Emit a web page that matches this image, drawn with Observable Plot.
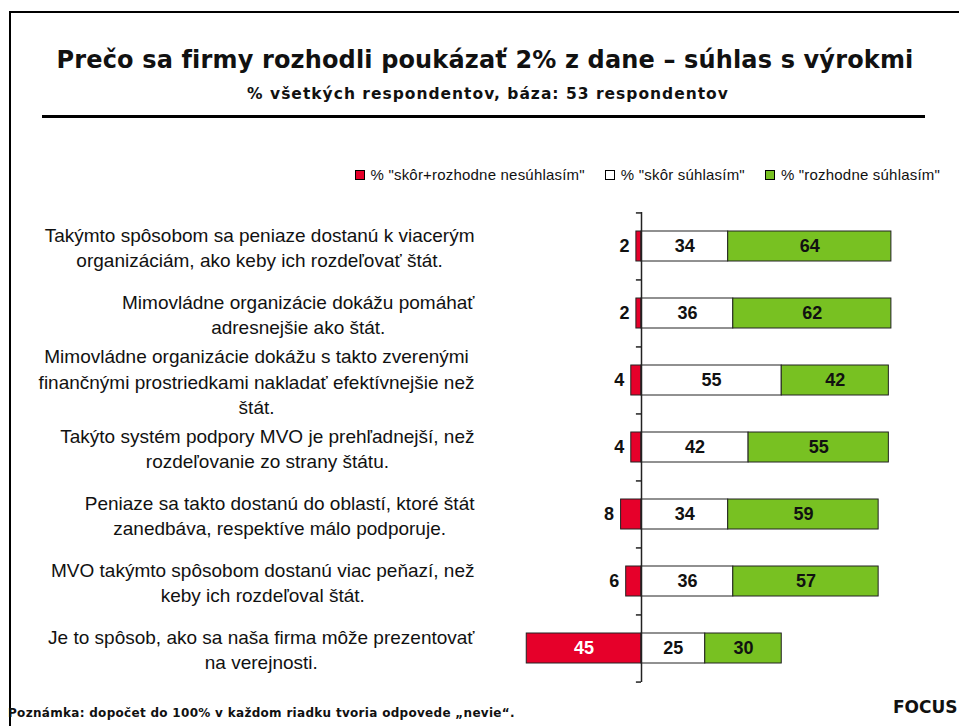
<!DOCTYPE html>
<html>
<head>
<meta charset="utf-8">
<script src="https://cdn.jsdelivr.net/npm/d3@7"></script>
<script src="https://cdn.jsdelivr.net/npm/@observablehq/plot@0.6"></script>
<style>
  html, body { margin: 0; padding: 0; background: #fff; }
  body { width: 959px; height: 726px; position: relative; overflow: hidden; }
  .abs { position: absolute; white-space: nowrap; }
  #frame { position: absolute; left: 9px; top: 11px; width: 1000px; height: 800px; border-left: 2px solid #000; border-top: 2px solid #000; }
  #title { left: 9px; width: 952px; top: 48px; text-align: center; font: bold 24px/24px "DejaVu Sans"; letter-spacing: 0.15px; color: #111; }
  #subtitle { left: 9px; width: 958px; top: 86px; text-align: center; font: bold 15.5px/16px "DejaVu Sans"; letter-spacing: 1px; color: #111; }
  #rule { position: absolute; left: 42px; top: 115px; width: 883px; height: 3px; background: #000; }
  #legend { right: 19px; top: 167px; font: 15px/16px "Liberation Sans"; letter-spacing: 0.2px; color: #111; display: flex; gap: 20px; }
  #legend span.item { display: flex; align-items: center; }
  #legend i { display: inline-block; width: 8px; height: 8px; border: 1px solid #000; margin-right: 6px; }
  #chart { position: absolute; left: 0; top: 200px; }
  #note { left: 8px; top: 707px; font: bold 12px/12px "DejaVu Sans"; letter-spacing: 0.3px; color: #111; }
  #focus { left: 893px; top: 699px; font: bold 17px/17px "DejaVu Sans"; color: #111; }
</style>
</head>
<body>
<div id="frame"></div>
<div id="title" class="abs">Prečo sa firmy rozhodli poukázať 2% z dane – súhlas s výrokmi</div>
<div id="subtitle" class="abs">% všetkých respondentov, báza: 53 respondentov</div>
<div id="rule"></div>
<div id="legend" class="abs"></div>
<div id="chart"></div>
<div id="note" class="abs">Poznámka: dopočet do 100% v každom riadku tvoria odpovede „nevie“.</div>
<div id="focus" class="abs">FOCUS</div>
<script>
// ---- data ----
const categories = [
  "Takýmto spôsobom sa peniaze dostanú k viacerým\norganizáciám, ako keby ich rozdeľovať štát.",
  "Mimovládne organizácie dokážu pomáhať\nadresnejšie ako štát.",
  "Mimovládne organizácie dokážu s takto zverenými\nfinančnými prostriedkami nakladať efektívnejšie než\nštát.",
  "Takýto systém podpory MVO je prehľadnejší, než\nrozdeľovanie zo strany štátu.",
  "Peniaze sa takto dostanú do oblastí, ktoré štát\nzanedbáva, respektíve málo podporuje.",
  "MVO takýmto spôsobom dostanú viac peňazí, než\nkeby ich rozdeľoval štát.",
  "Je to spôsob, ako sa naša firma môže prezentovať\nna verejnosti."
];
const nesuhlasim = [2, 2, 4, 4, 8, 6, 45];
const skorSuhlasim = [34, 36, 55, 42, 34, 36, 25];
const rozhodneSuhlasim = [64, 62, 42, 55, 59, 57, 30];
const seriesNames = ['% "skôr+rozhodne nesúhlasím"', '% "skôr súhlasím"', '% "rozhodne súhlasím"'];
const seriesColors = ["#E6002A", "#FFFFFF", "#78C122"];

// ---- legend ----
const legend = document.getElementById("legend");
seriesNames.forEach((n, i) => {
  const s = document.createElement("span");
  s.className = "item";
  s.innerHTML = `<i style="background:${seriesColors[i]}"></i>`;
  s.appendChild(document.createTextNode(n));
  legend.appendChild(s);
});

// ---- table ----
const rows = categories.map((c, i) => ({
  cat: c,
  neg: nesuhlasim[i],
  skor: skorSuhlasim[i],
  roz: rozhodneSuhlasim[i]
}));
const segs = [];
rows.forEach(r => {
  segs.push({cat: r.cat, s: 0, x1: -r.neg, x2: 0, v: r.neg});
  segs.push({cat: r.cat, s: 1, x1: 0, x2: r.skor, v: r.skor});
  segs.push({cat: r.cat, s: 2, x1: r.skor, x2: r.skor + r.roz, v: r.roz});
});

const labelSize = 19;
const ctx = document.createElement("canvas").getContext("2d");
ctx.font = `${labelSize}px 'Liberation Sans'`;
function blockWidth(t) {
  return Math.max(...t.split("\n").map(l => ctx.measureText(l).width));
}

const W = 959, H = 500;
const mTop = 12, mBottom = 18;
const step = (H - mTop - mBottom) / categories.length;
const xDomain = [-60, 100];
const xRange = [488, 896];
const axisX = 641; // pixel of zero
const labelRight = 474;

const labelMarks = categories.map(c => Plot.text([c], {
  x: () => 0, y: d => d, text: d => d,
  dx: (labelRight - axisX) - blockWidth(c) / 2,
  textAnchor: "middle", lineAnchor: "middle", lineHeight: 1.32,
  fontSize: labelSize, fontFamily: "Liberation Sans", fill: "#111"
}));

const chart = Plot.plot({
  width: W, height: H,
  marginTop: mTop, marginBottom: mBottom, marginLeft: 0, marginRight: 0,
  style: {background: "transparent"},
  x: {domain: xDomain, range: xRange, axis: null},
  y: {type: "band", domain: categories, paddingInner: 0.55, paddingOuter: 0.275, axis: null},
  marks: [
    Plot.barX(segs, {
      y: "cat", x1: "x1", x2: "x2",
      fill: d => seriesColors[d.s], stroke: "#222", strokeWidth: 1
    }),
    Plot.ruleX([0], {stroke: "#222", strokeWidth: 1.5}),
    Plot.ruleY(categories, {y: d => d, x1: -2, x2: 0, dy: -step / 2, stroke: "#222", strokeWidth: 1.5}),
    Plot.ruleY([categories[categories.length - 1]], {y: d => d, x1: -2, x2: 0, dy: step / 2, stroke: "#222", strokeWidth: 1.5}),
    Plot.text(segs.filter(d => d.s > 0), {
      x: d => (d.x1 + d.x2) / 2, y: "cat", text: d => String(d.v),
      fontSize: 18, fontWeight: "bold", fontFamily: "Liberation Sans", fill: "#111"
    }),
    Plot.text(segs.filter(d => d.s === 0 && d.v < 10), {
      x: "x1", y: "cat", text: d => String(d.v), dx: -7, textAnchor: "end",
      fontSize: 18, fontWeight: "bold", fontFamily: "Liberation Sans", fill: "#111"
    }),
    Plot.text(segs.filter(d => d.s === 0 && d.v >= 10), {
      x: d => (d.x1 + d.x2) / 2, y: "cat", text: d => String(d.v),
      fontSize: 18, fontWeight: "bold", fontFamily: "Liberation Sans", fill: "#fff"
    }),
    ...labelMarks
  ]
});
document.getElementById("chart").appendChild(chart);
</script>
</body>
</html>
